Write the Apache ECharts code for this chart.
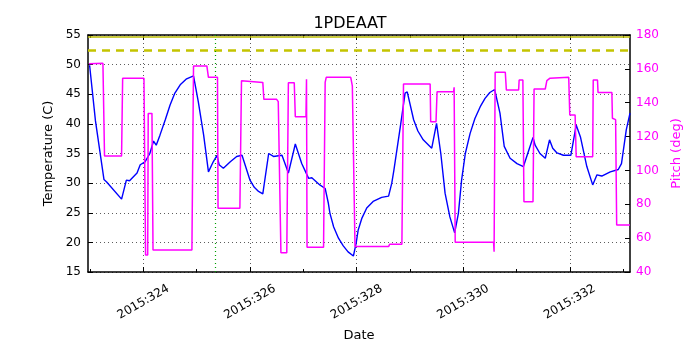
<!DOCTYPE html>
<html>
<head>
<meta charset="utf-8">
<script src="https://cdn.jsdelivr.net/npm/echarts@6/dist/echarts.min.js"></script>
<style>html,body{margin:0;padding:0;background:#fff;}#chart{width:700px;height:350px;}</style>
</head>
<body>
<div id="chart"></div>
<script>
// ---- data (day of year 2015) ----
const tempDays = [322.99,323.1,323.26,323.31,323.59,323.68,323.74,323.88,323.94,324.03,324.12,324.19,324.24,324.31,324.41,324.5,324.59,324.69,324.81,324.94,325.03,325.13,325.22,325.31,325.38,325.42,325.5,325.63,325.75,325.85,326.0,326.08,326.16,326.24,326.35,326.44,326.6,326.72,326.85,326.97,327.1,327.16,327.31,327.41,327.47,327.5,327.57,327.66,327.75,327.84,327.94,327.96,327.99,328.03,328.1,328.19,328.31,328.47,328.6,328.66,328.7,328.82,328.91,328.95,329.07,329.15,329.25,329.41,329.5,329.58,329.66,329.75,329.84,329.91,329.97,330.04,330.13,330.22,330.32,330.41,330.5,330.59,330.69,330.77,330.88,331.01,331.13,331.31,331.35,331.44,331.54,331.62,331.68,331.76,331.88,332.02,332.12,332.2,332.32,332.43,332.51,332.6,332.76,332.91,332.97,333.06,333.13];
const tempValues = [49.9,40.5,30.6,30.2,27.3,30.5,30.4,31.7,33.1,33.6,35.0,37.1,36.4,38.1,40.7,43.2,45.2,46.6,47.6,48.1,43.7,38.1,31.9,33.6,34.7,33.1,32.5,33.6,34.5,34.7,30.5,29.3,28.6,28.2,35.0,34.5,34.7,31.7,36.6,33.3,30.8,30.9,29.7,29.1,26.6,24.9,22.6,20.7,19.4,18.4,17.7,17.5,19.8,22.1,24.1,25.8,26.9,27.6,27.8,30.0,32.2,39.5,45.2,45.4,40.7,38.8,37.3,35.9,40.1,35.0,28.3,24.3,21.6,24.9,30.5,35.0,38.4,40.9,42.9,44.3,45.3,45.8,41.8,36.2,34.2,33.3,32.8,37.7,36.4,35.0,34.2,37.3,35.9,35.1,34.7,34.7,39.8,37.8,32.8,29.7,31.4,31.2,31.9,32.3,33.3,39.0,41.8];

const pitchDays = [322.98,323.24,323.26,323.27,323.59,323.61,324.01,324.04,324.08,324.09,324.16,324.18,324.91,324.92,324.94,325.19,325.22,325.39,325.40,325.81,325.84,326.24,326.26,326.5,326.53,326.56,326.58,326.69,326.72,326.83,326.85,327.05,327.06,327.07,327.38,327.41,327.43,327.89,327.92,327.97,328.6,328.62,328.85,328.88,329.38,329.39,329.49,329.51,329.82,329.83,329.85,330.57,330.58,330.6,330.79,330.81,331.04,331.05,331.12,331.14,331.31,331.33,331.54,331.57,331.63,331.98,332.0,332.1,332.12,332.43,332.44,332.52,332.53,332.79,332.8,332.86,332.88,333.13];
const pitchValues = [163,163.3,163,108.5,108.5,154.4,154.4,50.0,50.0,133.7,133.7,53.0,53.0,54,161.7,161.7,155.0,155.0,77.6,77.6,153,152,142,142,140.6,140,51.4,51.4,151.8,151.8,131.7,131.7,153.8,54.6,54.6,152,155,155,150,55,55,56.4,56.4,151.0,151.0,128.8,128.8,146.5,146.5,149.1,57.6,57.6,52.0,158.0,158.0,147.5,147.5,153.4,153.4,81.5,81.5,148.1,148.1,153.0,154.5,155,132.7,132.7,108.1,108.1,153.4,153.4,146.0,146.0,130.8,130.0,67.8,67.8];

const xMajorTicks = [324,326,328,330,332];
const xMinorTicks = [323,325,327,329,331,333];
const dayRange = [322.96,333.13];
const tempRange = [15,55,5];
const pitchRange = [40,180,20];
const cautionLimit = 52.5;
const planningLimit = 54.75;
const eventDay = 325.35;

const tempData = tempDays.map((d,i)=>[d,tempValues[i]]);
const pitchData = pitchDays.map((d,i)=>[d,pitchValues[i]]);

const FONT = 'DejaVu Sans';
const dotted = {color:'#333', width:0.8, type:[1,3]};

function xAxisBase(pos, ticks, len, showLine){
  return {
    type:'value', position:pos, min:dayRange[0], max:dayRange[1],
    axisLine:{show:showLine, onZero:false, lineStyle:{color:'#000', width:1.5}},
    axisTick:{show:true, inside:true, length:len, customValues:ticks, lineStyle:{color:'#000', width:1}},
    axisLabel:{show:false},
    splitLine:{show:false}
  };
}

const xMain = xAxisBase('bottom', xMajorTicks, 5, true);
xMain.name = 'Date';
xMain.nameLocation = 'middle';
xMain.nameGap = 57;
xMain.nameTextStyle = {fontFamily:FONT, fontSize:13, color:'#000'};
xMain.axisLabel = {show:true, customValues:xMajorTicks, rotate:30, align:'center', verticalAlign:'middle', margin:30,
  fontFamily:FONT, fontSize:12, color:'#000', formatter:v=>'2015:'+Math.round(v)};
xMain.splitLine = {show:true, lineStyle:dotted};

const chart = echarts.init(document.getElementById('chart'), null, {renderer:'canvas'});
chart.setOption({
  animation:false,
  backgroundColor:'#fff',
  title:{text:'1PDEAAT', left:'center', top:11, textStyle:{fontFamily:FONT, fontSize:16, fontWeight:'normal', color:'#000'}},
  grid:{left:88, right:70, top:35, bottom:78, containLabel:false},
  xAxis:[
    xMain,
    xAxisBase('bottom', xMinorTicks, 3, false),
    xAxisBase('top', xMajorTicks, 5, true),
    xAxisBase('top', xMinorTicks, 3, false)
  ],
  yAxis:[
    {type:'value', position:'left', min:tempRange[0], max:tempRange[1], interval:tempRange[2],
     name:'Temperature (C)', nameLocation:'middle', nameGap:31, nameRotate:90,
     nameTextStyle:{fontFamily:FONT, fontSize:13, color:'#000'},
     axisLine:{show:true, lineStyle:{color:'#000', width:1.5}},
     axisTick:{show:true, inside:true, length:5, lineStyle:{color:'#000'}},
     axisLabel:{fontFamily:FONT, fontSize:12, color:'#000', margin:7},
     splitLine:{show:true, lineStyle:dotted}},
    {type:'value', position:'right', min:pitchRange[0], max:pitchRange[1], interval:pitchRange[2],
     name:'Pitch (deg)', nameLocation:'middle', nameGap:35, nameRotate:90,
     nameTextStyle:{fontFamily:FONT, fontSize:13, color:'#ff00ff'},
     axisLine:{show:true, lineStyle:{color:'#000', width:1.5}},
     axisTick:{show:true, inside:true, length:5, lineStyle:{color:'#000'}},
     axisLabel:{fontFamily:FONT, fontSize:12, color:'#ff00ff', margin:6},
     splitLine:{show:false}}
  ],
  series:[
    {type:'line', name:'Temperature', xAxisIndex:0, yAxisIndex:0, data:tempData, showSymbol:false,
     lineStyle:{color:'#0000ff', width:1.4}, z:3,
     markLine:{silent:true, symbol:'none', label:{show:false}, animation:false,
       data:[
         {yAxis:cautionLimit, lineStyle:{color:'#c4c400', width:2.5, type:[8,6]}},
         {yAxis:planningLimit, lineStyle:{color:'#b8b800', width:1.5, type:'solid'}},
         {xAxis:eventDay, lineStyle:{color:'#00a000', width:1.2, type:[1,3]}}
       ]}},
    {type:'line', name:'Pitch', xAxisIndex:0, yAxisIndex:1, data:pitchData, showSymbol:false,
     lineStyle:{color:'#ff00ff', width:1.5}, z:4}
  ]
});
</script>
</body>
</html>
